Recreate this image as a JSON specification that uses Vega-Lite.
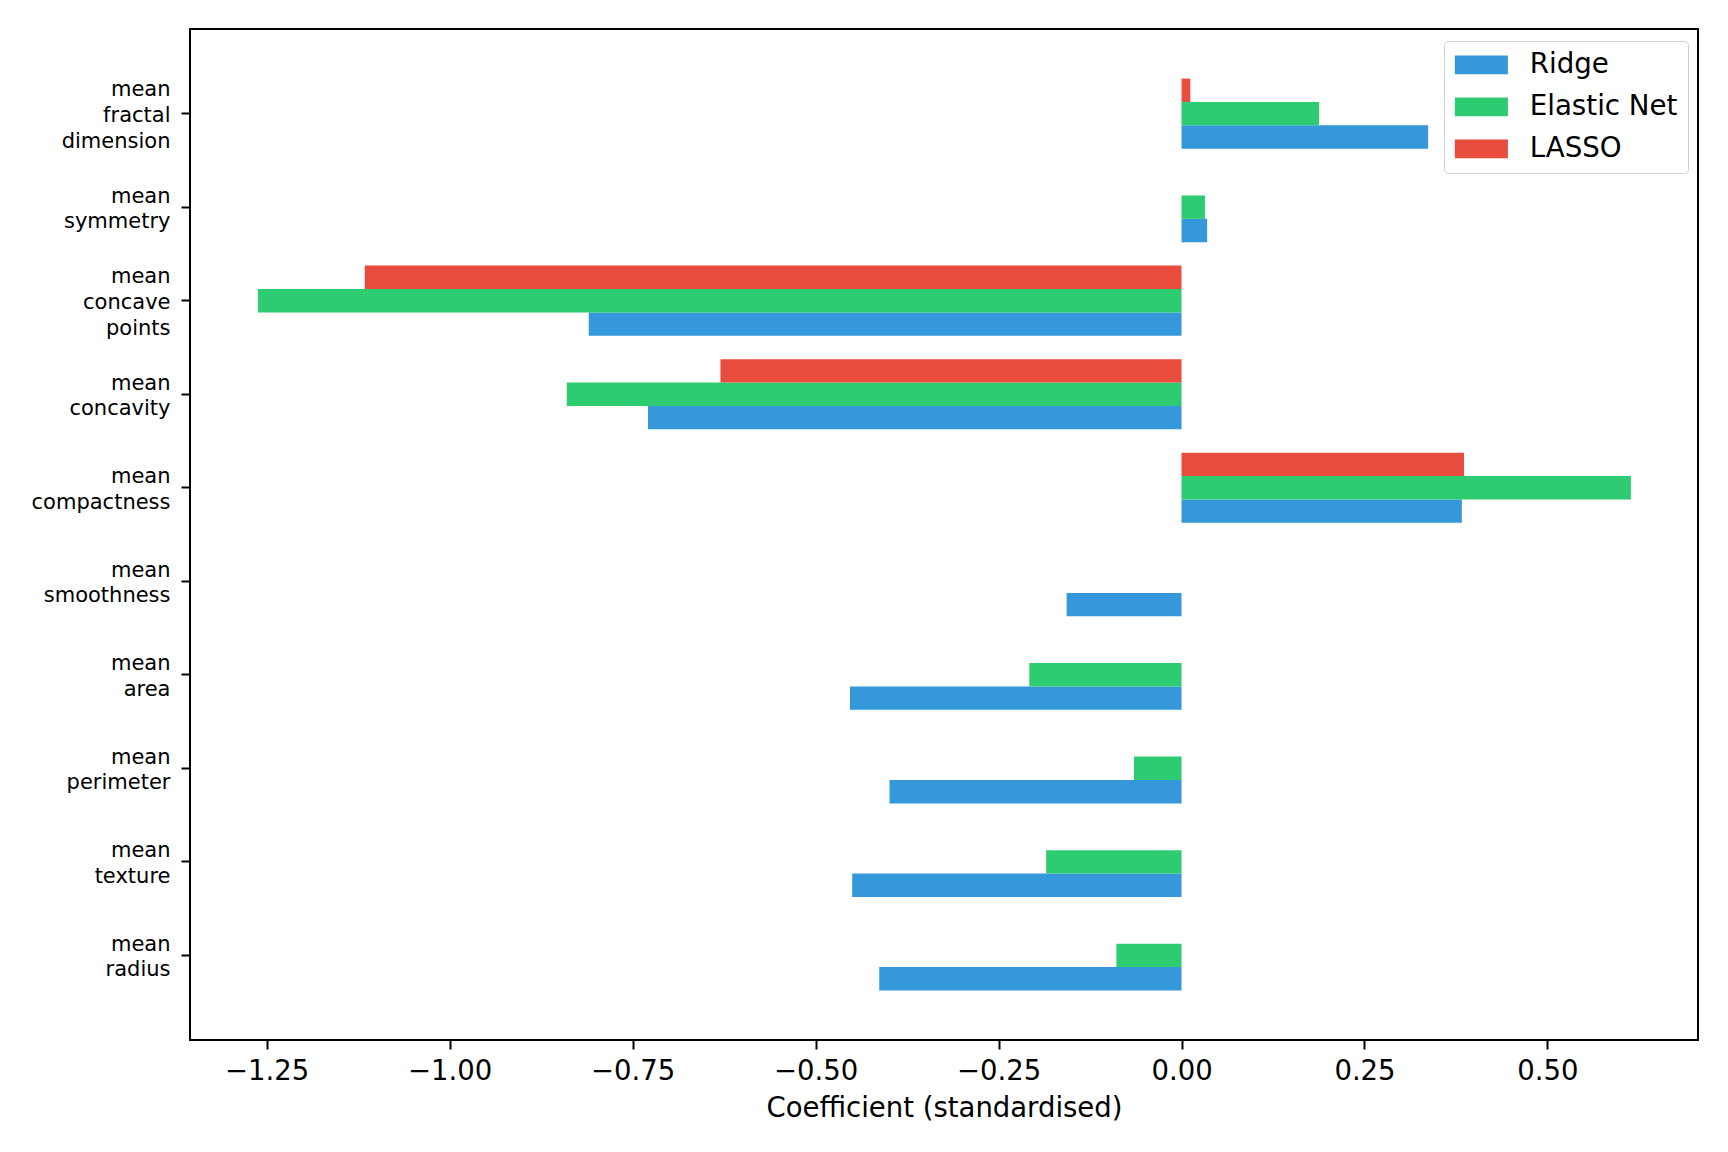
{
  "$schema": "https://vega.github.io/schema/vega-lite/v6.json",
  "width": 1508,
  "height": 1011,
  "autosize": {"type": "none"},
  "padding": {"left": 190, "top": 29, "right": 30, "bottom": 112},
  "background": "white",
  "config": {
    "font": "DejaVu Sans",
    "view": {"stroke": "black", "strokeWidth": 2}
  },
  "data": {
    "values": [
      {"feature": "mean fractal dimension", "model": "Ridge", "coef": 0.337},
      {"feature": "mean fractal dimension", "model": "Elastic Net", "coef": 0.188},
      {"feature": "mean fractal dimension", "model": "LASSO", "coef": 0.012},
      {"feature": "mean symmetry", "model": "Ridge", "coef": 0.035},
      {"feature": "mean symmetry", "model": "Elastic Net", "coef": 0.032},
      {"feature": "mean symmetry", "model": "LASSO", "coef": 0},
      {"feature": "mean concave points", "model": "Ridge", "coef": -0.81},
      {"feature": "mean concave points", "model": "Elastic Net", "coef": -1.262},
      {"feature": "mean concave points", "model": "LASSO", "coef": -1.116},
      {"feature": "mean concavity", "model": "Ridge", "coef": -0.729},
      {"feature": "mean concavity", "model": "Elastic Net", "coef": -0.84},
      {"feature": "mean concavity", "model": "LASSO", "coef": -0.63},
      {"feature": "mean compactness", "model": "Ridge", "coef": 0.383},
      {"feature": "mean compactness", "model": "Elastic Net", "coef": 0.614},
      {"feature": "mean compactness", "model": "LASSO", "coef": 0.386},
      {"feature": "mean smoothness", "model": "Ridge", "coef": -0.157},
      {"feature": "mean smoothness", "model": "Elastic Net", "coef": 0},
      {"feature": "mean smoothness", "model": "LASSO", "coef": 0},
      {"feature": "mean area", "model": "Ridge", "coef": -0.453},
      {"feature": "mean area", "model": "Elastic Net", "coef": -0.208},
      {"feature": "mean area", "model": "LASSO", "coef": 0},
      {"feature": "mean perimeter", "model": "Ridge", "coef": -0.399},
      {"feature": "mean perimeter", "model": "Elastic Net", "coef": -0.065},
      {"feature": "mean perimeter", "model": "LASSO", "coef": 0},
      {"feature": "mean texture", "model": "Ridge", "coef": -0.45},
      {"feature": "mean texture", "model": "Elastic Net", "coef": -0.185},
      {"feature": "mean texture", "model": "LASSO", "coef": 0},
      {"feature": "mean radius", "model": "Ridge", "coef": -0.413},
      {"feature": "mean radius", "model": "Elastic Net", "coef": -0.089},
      {"feature": "mean radius", "model": "LASSO", "coef": 0}
    ]
  },
  "mark": {"type": "bar"},
  "encoding": {
    "y": {
      "field": "feature",
      "type": "nominal",
      "sort": ["mean fractal dimension", "mean symmetry", "mean concave points", "mean concavity", "mean compactness", "mean smoothness", "mean area", "mean perimeter", "mean texture", "mean radius"],
      "scale": {"paddingInner": 0.25, "paddingOuter": 0.53},
      "axis": {
        "title": null,
        "labelExpr": "split(datum.label, ' ')",
        "labelFontSize": 21,
        "labelLineHeight": 25.7,
        "labelColor": "black",
        "labelPadding": 11,
        "labelAlign": "right",
        "labelBaseline": "middle",
        "labelOffset": {
          "condition": {"test": "indexof(['mean fractal dimension', 'mean concave points'], datum.value) >= 0", "value": -23.5},
          "value": -10.6
        },
        "labelOverlap": false,
        "labelBound": false,
        "labelLimit": 0,
        "tickSize": 9,
        "tickWidth": 2,
        "tickColor": "black",
        "domain": false
      }
    },
    "yOffset": {
      "field": "model",
      "type": "nominal",
      "sort": ["LASSO", "Elastic Net", "Ridge"],
      "scale": {"paddingInner": 0, "paddingOuter": 0}
    },
    "x": {
      "field": "coef",
      "type": "quantitative",
      "scale": {"domain": [-1.3548, 0.7057], "nice": false},
      "axis": {
        "title": "Coefficient (standardised)",
        "titleFontSize": 27.5,
        "titleFontWeight": "normal",
        "titleColor": "black",
        "titlePadding": 10,
        "values": [-1.25, -1, -0.75, -0.5, -0.25, 0, 0.25, 0.5],
        "format": ".2f",
        "labelFontSize": 27.5,
        "labelColor": "black",
        "labelPadding": 8,
        "labelFlush": false,
        "tickSize": 9,
        "tickWidth": 2,
        "tickColor": "black",
        "domain": false,
        "grid": false
      }
    },
    "color": {
      "field": "model",
      "type": "nominal",
      "scale": {"domain": ["Ridge", "Elastic Net", "LASSO"], "range": ["#3498db", "#2ecc71", "#e74c3c"]},
      "legend": {
        "title": null,
        "orient": "none",
        "legendX": 1254,
        "legendY": 12,
        "direction": "vertical",
        "symbolType": "M-1,-0.72H3.08V0.72H-1Z",
        "symbolSize": 676,
        "symbolStrokeWidth": 0,
        "symbolOpacity": 1,
        "labelFontSize": 27.7,
        "labelColor": "black",
        "labelOffset": 48,
        "labelLimit": 0,
        "rowPadding": 13,
        "padding": 10,
        "strokeColor": "#d0d0d0",
        "fillColor": "white",
        "cornerRadius": 4
      }
    }
  }
}
